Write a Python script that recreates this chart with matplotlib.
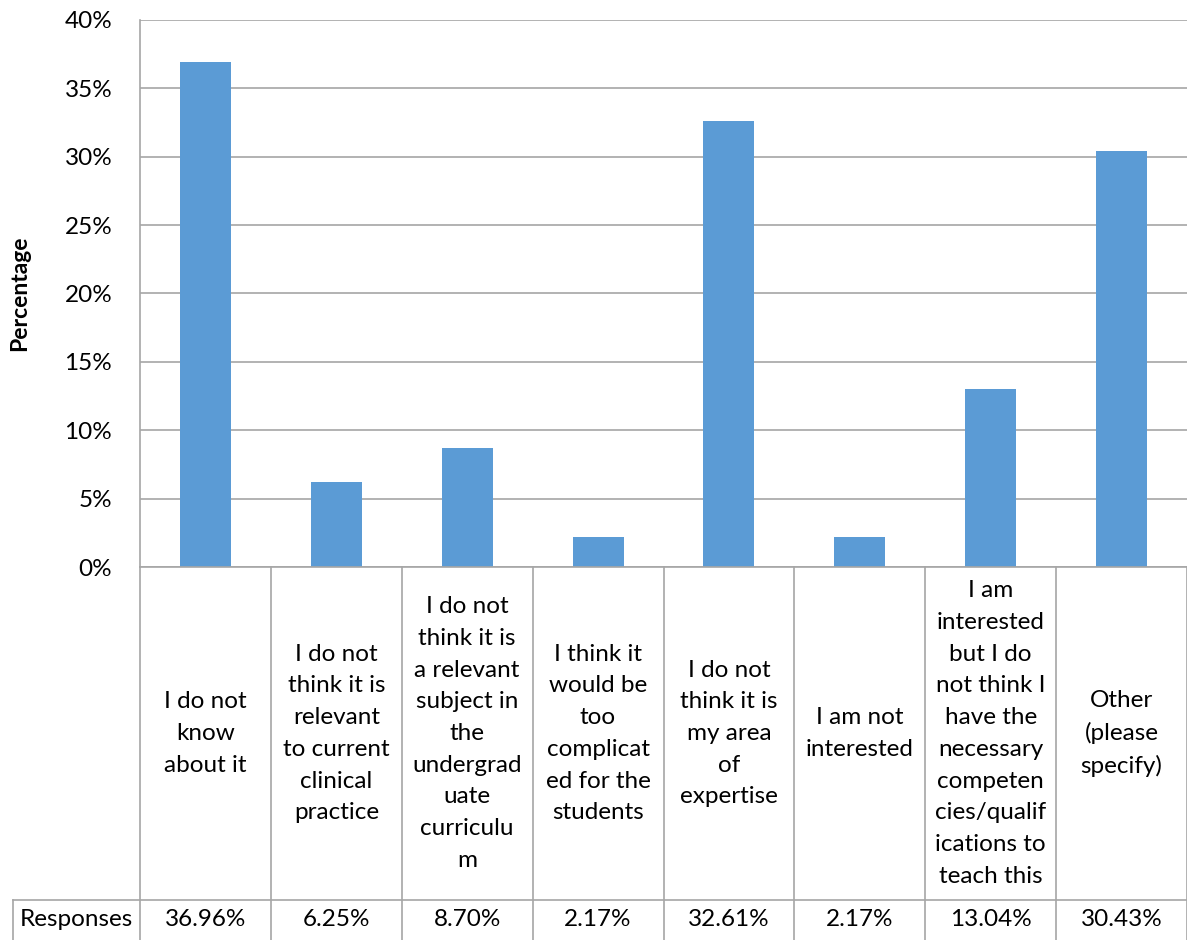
import numpy as np
import matplotlib.pyplot as plt

categories = [
    "I do not\nknow\nabout it",
    "I do not\nthink it is\nrelevant\nto current\nclinical\npractice",
    "I do not\nthink it is\na relevant\nsubject in\nthe\nundergrad\nuate\ncurriculu\nm",
    "I think it\nwould be\ntoo\ncomplicat\ned for the\nstudents",
    "I do not\nthink it is\nmy area\nof\nexpertise",
    "I am not\ninterested",
    "I am\ninterested\nbut I do\nnot think I\nhave the\nnecessary\ncompeten\ncies/qualif\nications to\nteach this",
    "Other\n(please\nspecify)",
]
responses = [36.96, 6.25, 8.70, 2.17, 32.61, 2.17, 13.04, 30.43]
yticks = [0, 5, 10, 15, 20, 25, 30, 35, 40]

plt.rcParams['font.family'] = ['Lato', 'DejaVu Sans']
W, H = 1187, 940
fig = plt.figure(figsize=(W / 100, H / 100), dpi=100)

grid_c = '#a6a6a6'
bar_c = '#5b9bd5'
fs = 17.5

x0, y_top, y_zero = 140, 20, 567
ax = fig.add_axes([x0 / W, (H - y_zero) / H, (W - x0) / W, (y_zero - y_top) / H])
x = np.arange(len(responses))
ax.bar(x, responses, width=0.39, color=bar_c, zorder=3)
ax.set_xlim(-0.5, len(responses) - 0.5)
ax.set_ylim(0, 40)
ax.set_yticks(yticks)
ax.set_yticklabels([f'{t}%' for t in yticks], fontsize=fs)
ax.yaxis.grid(True, color=grid_c, linewidth=1.2, zorder=0)
ax.tick_params(axis='y', length=0, pad=20)
ax.set_xticks([])
for s in ['top', 'right', 'bottom']:
    ax.spines[s].set_visible(False)
ax.spines['left'].set_color(grid_c)
ax.spines['left'].set_linewidth(1.2)
ax.set_ylabel('Percentage', fontsize=fs - 1, fontweight='bold', labelpad=25)

# data table below the bars
tb = fig.add_axes([x0 / W, 0, (W - x0) / W, (H - y_zero) / H])
tb.set_xlim(-0.5, len(responses) - 0.5)
tb.set_ylim(0, H - y_zero)
tb.axis('off')
row_y = H - 900
lw = 1.2
for b in np.arange(-0.5, len(responses), 1.0):
    tb.plot([b, b], [0, H - y_zero], color=grid_c, lw=lw, clip_on=False)
lab_left = (13 - x0) / 131 - 0.5
tb.plot([lab_left, len(responses) - 0.5], [row_y, row_y], color=grid_c, lw=lw, clip_on=False)
tb.plot([lab_left, lab_left], [0, row_y], color=grid_c, lw=lw, clip_on=False)
tb.plot([-0.5, len(responses) - 0.5], [H - y_zero, H - y_zero], color=grid_c, lw=lw, clip_on=False)

mid = (row_y + (H - y_zero)) / 2
for i, (c, r) in enumerate(zip(categories, responses)):
    tb.text(i, mid, c, ha='center', va='center', fontsize=fs, linespacing=1.63)
    tb.text(i, row_y / 2, f'{r:.2f}%', ha='center', va='center', fontsize=fs)
tb.text((lab_left - 0.5) / 2, row_y / 2, 'Responses', ha='center', va='center',
        fontsize=fs, clip_on=False)

fig.savefig('out.png', dpi=100)
